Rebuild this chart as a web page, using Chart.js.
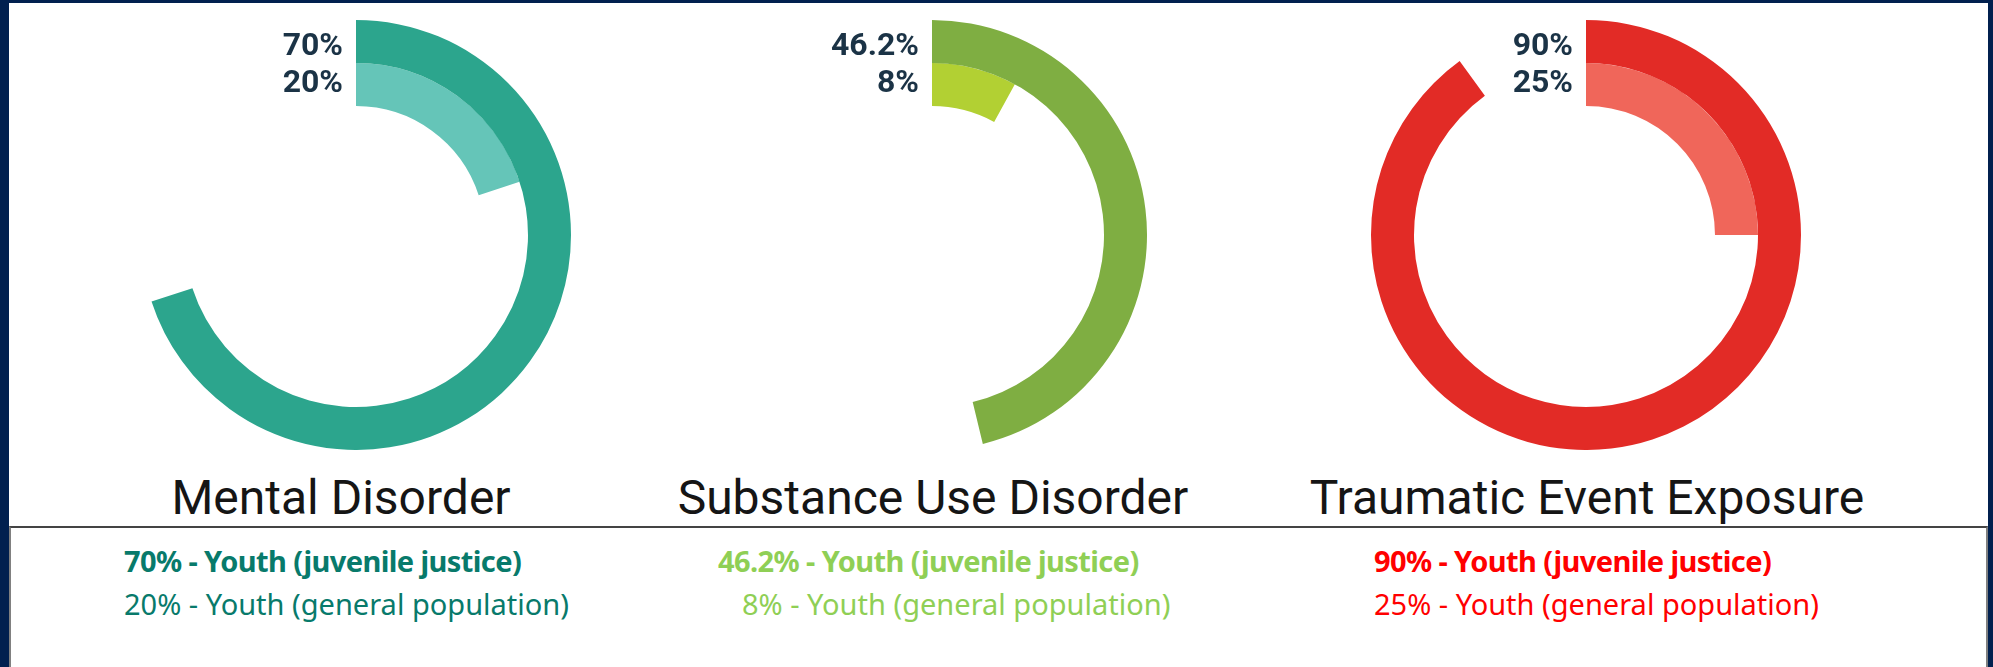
<!DOCTYPE html>
<html>
<head>
<meta charset="utf-8">
<script src="https://cdn.jsdelivr.net/npm/chart.js@4.4.1/dist/chart.umd.min.js"></script>
<style>
  html, body { margin: 0; padding: 0; }
  body { width: 1993px; height: 667px; background: #01204f; position: relative; overflow: hidden; }
  #panel { position: absolute; left: 9px; top: 3px; width: 1979px; height: 524px; background: #fff; }
  #legendBox { position: absolute; left: 9px; top: 526px; width: 1975px; height: 150px; background: #fff;
               border-top: 2px solid #444; border-left: 2px solid #808080; border-right: 2px solid #808080; }
  .ring { position: absolute; top: 20px; width: 430px; height: 430px; }
  .title { position: absolute; top: 470px; width: 700px; text-align: center; font-family: Roboto, sans-serif;
           font-size: 48px; color: #151515; line-height: 56px; white-space: nowrap; }
  .leg { position: absolute; font-family: "Noto Sans", sans-serif; font-size: 29px;
         line-height: 34px; white-space: nowrap; }
  .leg.b { font-weight: bold; letter-spacing: -0.6px; }
</style>
</head>
<body>
<div id="panel"></div>
<div id="legendBox"></div>
<canvas id="c0" class="ring" width="430" height="430"></canvas>
<canvas id="c1" class="ring" width="430" height="430"></canvas>
<canvas id="c2" class="ring" width="430" height="430"></canvas>
<script>
// Prevalence among youth, by condition
const categories = ['Mental Disorder', 'Substance Use Disorder', 'Traumatic Event Exposure'];
const seriesNames = ['Youth (juvenile justice)', 'Youth (general population)'];
const justiceValues = [70, 46.2, 90];
const generalValues = [20, 8, 25];

// Ring colours per condition: outer (juvenile justice), inner (general population)
const outerColors = ['#2ca58d', '#7fae42', '#e22b26'];
const innerColors = ['#65c5b8', '#b2d033', '#f0665a'];
const legendColors = ['#087a6b', '#8fcf55', '#ff0000'];

// Layout of each condition block
const centersX = [356, 932, 1586];
const titleCenters = [341, 933, 1587];
const legendX = [[124, 124], [718, 742], [1374, 1374]];

// Writes each ring's value just left of where its arc starts,
// stacked from the top of the outer ring
const labelBaselines = [35, 72];
const startLabels = {
  id: 'startLabels',
  afterDatasetsDraw(chart) {
    const ctx = chart.ctx;
    const outer = chart.getDatasetMeta(0).data[0].getProps(['x', 'y', 'outerRadius'], true);
    const top = outer.y - outer.outerRadius;
    ctx.save();
    ctx.font = 'bold 32px Roboto, sans-serif';
    ctx.fillStyle = '#1b3346';
    ctx.textAlign = 'right';
    ctx.textBaseline = 'alphabetic';
    chart.data.datasets.forEach((ds, i) => {
      ctx.fillText(ds.data[0] + '%', outer.x - 13, top + labelBaselines[i]);
    });
    ctx.restore();
  }
};

categories.forEach((name, i) => {
  const canvas = document.getElementById('c' + i);
  canvas.style.left = (centersX[i] - 215) + 'px';
  new Chart(canvas, {
    type: 'doughnut',
    data: {
      labels: ['share', 'rest'],
      datasets: [
        { label: seriesNames[0], data: [justiceValues[i], 100 - justiceValues[i]],
          backgroundColor: [outerColors[i], 'rgba(0,0,0,0)'], borderWidth: 0 },
        { label: seriesNames[1], data: [generalValues[i], 100 - generalValues[i]],
          backgroundColor: [innerColors[i], 'rgba(0,0,0,0)'], borderWidth: 0 }
      ]
    },
    options: {
      responsive: false,
      animation: false,
      cutout: '60%',
      layout: { padding: 0 },
      plugins: { legend: { display: false }, tooltip: { enabled: false } }
    },
    plugins: [startLabels]
  });

  const t = document.createElement('div');
  t.className = 'title';
  t.textContent = name;
  t.style.left = (titleCenters[i] - 350) + 'px';
  document.body.appendChild(t);

  const lines = [
    { text: justiceValues[i] + '% - ' + seriesNames[0], bold: true, top: 544 },
    { text: generalValues[i] + '% - ' + seriesNames[1], bold: false, top: 587 }
  ];
  lines.forEach((ln, k) => {
    const d = document.createElement('div');
    d.className = 'leg' + (ln.bold ? ' b' : '');
    d.textContent = ln.text;
    d.style.color = legendColors[i];
    d.style.left = legendX[i][k] + 'px';
    d.style.top = ln.top + 'px';
    document.body.appendChild(d);
  });
});
</script>
</body>
</html>
